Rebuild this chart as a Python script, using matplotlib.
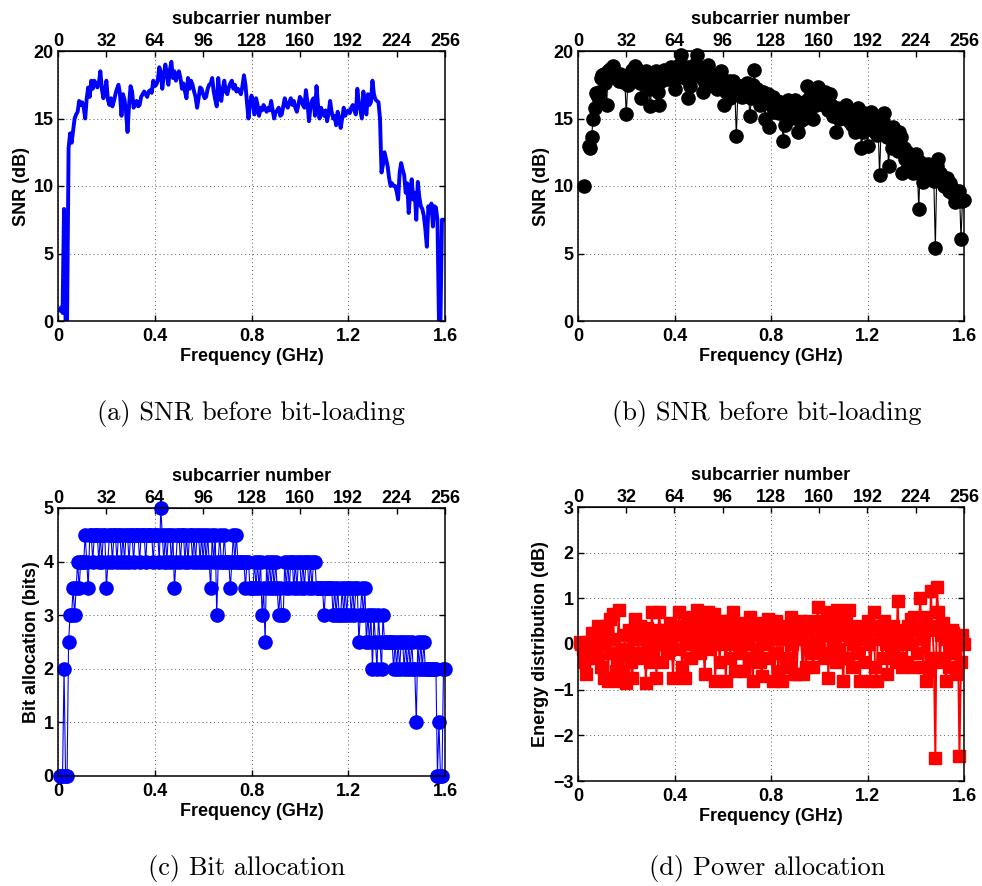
import numpy as np
import matplotlib
matplotlib.use("Agg")
import matplotlib.pyplot as plt

plt.rcParams['font.family'] = ['Liberation Sans', 'DejaVu Sans']
plt.rcParams['font.weight'] = 'bold'
plt.rcParams['axes.labelweight'] = 'bold'
plt.rcParams['font.size'] = 13
plt.rcParams['axes.unicode_minus'] = True

# OFDM system: 256 subcarriers over 1.6 GHz
N_SUB = 256
BANDWIDTH_GHZ = 1.6
subcarrier = np.arange(1, N_SUB + 1)
freq_ghz = subcarrier * BANDWIDTH_GHZ / N_SUB

freq_ticks = [0, 0.4, 0.8, 1.2, 1.6]
freq_labels = ['0', '0.4', '0.8', '1.2', '1.6']
sub_ticks = [0, 32, 64, 96, 128, 160, 192, 224, 256]

# (a) measured SNR per subcarrier (dB)
snr_line = [
    0.8, 1.0, 0.6, 8.3, 0.0, 0.0, 12.8, 13.9, 13.2, 14.1, 15.0, 15.3, 15.5, 16.3, 16.0, 16.2,
    15.8, 15.0, 16.5, 17.3, 16.6, 17.8, 17.2, 17.8, 17.6, 17.3, 17.6, 18.5, 17.2, 16.5, 17.0, 17.8,
    16.4, 16.0, 16.5, 15.9, 16.3, 16.8, 17.2, 17.5, 16.8, 15.2, 16.8, 16.4, 15.5, 14.0, 16.0, 17.4,
    17.0, 15.8, 16.2, 16.3, 15.9, 16.0, 16.6, 16.8, 17.0, 16.8, 16.6, 17.0, 17.1, 16.9, 17.8, 17.4,
    17.5, 17.8, 18.8, 18.4, 17.2, 18.2, 19.0, 18.3, 17.5, 18.6, 19.2, 18.0, 18.5, 17.8, 18.2, 18.5,
    18.0, 17.2, 17.6, 17.0, 16.5, 18.0, 17.2, 17.8, 17.5, 17.0, 16.6, 15.8, 16.5, 17.3, 17.2, 16.8,
    16.5, 16.6, 17.2, 17.5, 17.6, 18.0, 17.0, 16.4, 15.9, 18.0, 16.8, 16.3, 17.2, 17.8, 17.0, 16.8,
    17.3, 17.6, 17.8, 17.2, 17.5, 17.0, 17.2, 17.0, 16.8, 17.4, 18.2, 17.5, 16.2, 15.0, 16.0, 16.7,
    16.2, 15.3, 16.5, 16.0, 15.2, 15.8, 15.6, 16.0, 15.7, 15.5, 15.8, 15.6, 16.3, 15.6, 15.0, 15.5,
    15.6, 15.8, 15.2, 15.3, 15.9, 16.5, 16.0, 15.8, 16.2, 16.5, 16.0, 16.3, 15.8, 15.5, 16.0, 16.6,
    16.4, 16.0, 15.8, 17.1, 16.2, 14.8, 15.8, 16.3, 16.5, 15.2, 17.4, 16.0, 15.0, 15.8, 15.5, 15.2,
    15.6, 14.8, 15.4, 16.3, 15.5, 15.0, 15.2, 14.5, 15.5, 15.0, 14.3, 15.0, 15.8, 15.2, 15.5, 15.6,
    15.4, 15.8, 16.0, 15.6, 15.3, 17.2, 16.2, 15.6, 15.0, 17.0, 16.0, 15.3, 16.8, 16.0, 16.2, 17.8,
    16.8, 16.4, 16.3, 16.2, 15.0, 11.0, 11.6, 12.5, 12.0, 11.5, 10.6, 10.0, 10.2, 10.0, 10.0, 9.6,
    9.0, 11.0, 11.7, 11.2, 10.8, 9.5, 10.2, 8.0, 9.6, 10.5, 9.0, 9.5, 7.5, 10.3, 9.2, 8.5,
    8.3, 7.8, 6.8, 5.5, 8.5, 8.0, 8.7, 7.0, 8.5, 8.4, 7.5, 0.0, 0.0, 7.5, 7.5, 7.5,
]

# (b) estimated SNR per subcarrier (dB); unused subcarriers are NaN
nan = float('nan')
snr_points = [
    nan, nan, nan, 10.0, nan, nan, 13.0, 12.8, 13.6, 15.0, 15.8, 16.9, 16.6, 17.0, 18.0, 18.2,
    18.3, 17.6, 16.0, 18.5, 18.7, 18.4, 18.9, 18.6, 18.0, 18.2, 17.8, 18.3, 18.0, 17.7, 17.9, 15.3,
    17.5, 18.0, 18.3, 18.6, 18.2, 18.9, 18.0, 18.6, 17.6, 16.5, 18.2, 17.6, 18.5, 17.8, 17.2, 15.9,
    17.6, 18.3, 17.9, 18.5, 17.0, 16.0, 17.8, 18.3, 18.6, 18.5, 17.9, 18.5, 18.2, 18.8, 18.4, 17.2,
    18.0, 18.6, 19.0, 19.7, 18.6, 18.2, 18.0, 18.8, 16.5, 17.4, 18.7, 18.2, 19.0, 18.5, 19.7, 18.8,
    18.4, 18.0, 17.0, 17.6, 18.4, 19.0, 18.0, 17.5, 18.2, 17.6, 17.8, 17.2, 17.7, 18.0, 18.5, 17.6,
    16.0, 17.0, 17.5, 17.8, 16.5, 17.4, 17.8, 17.2, 13.7, 16.8, 17.0, 17.4, 16.6, 17.4, 17.0, 17.6,
    16.8, 15.2, 16.5, 17.5, 18.6, 16.5, 17.2, 16.8, 16.0, 16.2, 17.0, 15.0, 16.4, 16.8, 14.4, 16.0,
    16.6, 15.5, 16.0, 16.3, 15.4, 16.2, 15.8, 13.3, 14.5, 15.5, 16.4, 15.0, 15.8, 16.0, 15.2, 16.4,
    15.6, 14.0, 14.8, 15.8, 15.0, 16.2, 16.0, 17.4, 16.5, 15.8, 16.8, 15.0, 16.4, 16.0, 17.3, 16.8,
    16.3, 16.6, 16.0, 17.0, 16.2, 15.6, 16.8, 16.0, 15.2, 15.8, 14.0, 15.8, 15.0, 15.5, 15.2, 15.6,
    15.3, 16.0, 15.0, 14.8, 15.4, 14.5, 14.8, 14.0, 15.2, 15.8, 14.6, 12.8, 14.0, 15.4, 14.7, 13.0,
    14.5, 15.5, 14.8, 15.2, 14.0, 13.8, 14.6, 10.8, 14.2, 14.8, 15.4, 14.2, 13.6, 11.5, 13.6, 12.8,
    14.4, 13.2, 13.8, 12.6, 14.0, 13.6, 11.0, 12.8, 12.0, 12.5, 11.8, 11.4, 12.2, 11.0, 12.0, 12.4,
    11.4, 8.3, 11.8, 11.0, 10.3, 11.2, 10.8, 11.6, 10.6, 11.3, 10.9, 10.4, 5.4, 11.5, 12.0, 11.0,
    10.8, 10.4, 10.0, 10.3, 10.6, 9.6, 10.2, 9.5, 9.8, 8.8, 9.4, 9.0, 9.6, 6.1, 8.9, 9.0,
]

# (c) bits loaded on each subcarrier
bits = [
    0, 0, 0, 2, 0, 0, 2.5, 3, 3, 3.5, 3, 3.5, 4, 3.5, 4, 4,
    4, 4.5, 4, 3.5, 4.5, 4.5, 4, 4.5, 4.5, 4.5, 4, 4.5, 4, 4.5, 4.5, 3.5,
    4, 4.5, 4.5, 4, 4.5, 4.5, 4, 4.5, 4.5, 4, 4.5, 4, 4.5, 4.5, 4, 4.5,
    4.5, 4, 4.5, 4.5, 4.5, 4, 4.5, 4.5, 4.5, 4, 4.5, 4.5, 4.5, 4.5, 4, 4.5,
    4.5, 4.5, 4, 5, 4.5, 4, 4.5, 4, 4.5, 4.5, 4, 4.5, 3.5, 4, 4.5, 4.5,
    4, 4.5, 4.5, 4, 4.5, 4, 4.5, 4.5, 4, 4.5, 4, 4.5, 4.5, 4, 4.5, 4,
    4.5, 4, 4.5, 4, 3.5, 4.5, 4, 4.5, 3, 4, 4.5, 4, 4, 4.5, 4, 4,
    4, 3.5, 4, 4.5, 4, 4.5, 4, 4, 4, 4, 4, 3.5, 4, 4, 3.5, 3.5,
    3.5, 4, 3.5, 4, 3.5, 4, 3, 3.5, 2.5, 4, 3.5, 4, 3.5, 4, 3.5, 4,
    3.5, 3, 3.5, 3, 3, 4, 3.5, 4, 3.5, 4, 4, 3.5, 4, 3.5, 4, 4,
    3.5, 4, 3.5, 4, 4, 3.5, 4, 3.5, 4, 4, 3.5, 3.5, 3.5, 3.5, 3.5, 3,
    3.5, 3.5, 3.5, 3.5, 3.5, 3, 3.5, 3, 3.5, 3, 3, 3.5, 3, 3.5, 3, 3.5,
    3.5, 3, 3.5, 3, 3.5, 3.5, 2.5, 3, 3.5, 3, 3.5, 2.5, 3, 2.5, 3, 2,
    3, 2.5, 2, 3, 2.5, 2, 3, 2.5, 2.5, 2.5, 2.5, 2.5, 2.5, 2, 2.5, 2,
    2.5, 2, 2.5, 2.5, 2, 2.5, 2, 2.5, 2, 2.5, 2, 2, 1, 2.5, 2, 2.5,
    2, 2.5, 2, 2, 2, 2, 2, 2, 2, 2, 0, 1, 0, 0, 2, 2,
]

# (d) energy per subcarrier relative to the mean (dB)
energy = [
    0.05, 0.0, -0.1, -0.4, -0.65, -0.3, -0.1, 0.05, 0.25, 0.1, -0.3, -0.1, 0.4, 0.2, -0.5, 0.1,
    -0.75, 0.0, 0.4, -0.8, 0.55, -0.2, 0.65, 0.1, -0.6, -0.3, 0.75, -0.8, -0.1, -0.6, 0.2, -0.85,
    -0.1, 0.3, -0.4, -0.75, 0.1, 0.55, 0.3, -0.2, 0.4, 0.1, -0.3, 0.2, -0.85, 0.35, 0.0, -0.4,
    0.7, -0.1, 0.3, -0.75, 0.2, 0.7, 0.0, -0.4, 0.3, 0.0, 0.3, -0.2, 0.45, 0.1, -0.75, 0.2,
    0.4, -0.1, 0.7, 0.2, -0.5, 0.3, -0.75, 0.6, 0.0, 0.35, -0.3, 0.2, 0.45, -0.1, 0.75, 0.3,
    -0.2, 0.5, 0.1, -0.65, 0.3, 0.7, -0.1, 0.4, 0.0, 0.65, -0.8, 0.3, 0.1, -0.4, 0.5, 0.0,
    0.3, -0.8, 0.2, 0.5, -0.3, 0.1, 0.7, -0.6, 0.3, 0.0, 0.45, -0.2, 0.3, -0.6, 0.1, 0.4,
    0.0, 0.6, -0.3, -0.8, 0.2, 0.45, -0.1, 0.3, -0.4, -0.7, 0.2, 0.0, 0.4, 0.55, -0.3, 0.1,
    -0.8, 0.3, 0.5, -0.2, -0.6, 0.35, -0.8, 0.1, 0.4, -0.3, 0.2, -0.5, 0.6, 0.0, -0.65, 0.3,
    -0.65, 0.1, 0.5, 0.2, -0.65, 0.4, -0.5, 0.0, 0.5, 0.3, -0.2, -0.5, 0.1, 0.3, 0.8, -0.1,
    0.3, 0.5, -0.3, 0.2, 0.7, -0.75, 0.4, -0.2, 0.1, 0.5, -0.4, 0.75, -0.1, 0.3, -0.3, -0.8,
    0.2, 0.5, -0.3, 0.75, 0.1, -0.5, 0.3, 0.0, -0.2, 0.4, -0.8, 0.1, 0.25, -0.4, 0.2, 0.5,
    0.0, -0.8, 0.4, 0.7, -0.5, -0.8, 0.3, 0.4, 0.1, -0.3, 0.5, 0.0, -0.65, 0.3, 0.2, -0.2,
    0.4, 0.1, -0.4, 0.95, 0.0, -0.3, -0.5, 0.2, 0.3, -0.4, 0.4, 0.0, 0.55, -0.5, 0.6, 0.3,
    -0.2, 0.4, 1.0, 0.1, -0.5, 0.6, -0.8, 0.3, -0.6, 1.15, 0.4, -0.3, -2.5, 1.25, 0.7, -0.4,
    0.2, 0.45, -0.3, -0.8, 0.1, -0.5, -0.1, 0.3, 0.25, -0.2, -0.65, 0.0, -2.45, -0.4, 0.2, 0.0,
]

captions = ['(a) SNR before bit-loading', '(b) SNR before bit-loading',
            '(c) Bit allocation', '(d) Power allocation']

W, H = 982, 886
fig = plt.figure(figsize=(W / 100, H / 100), dpi=100)


def px_axes(x0, y0, x1, y1):
    return fig.add_axes([x0 / W, 1 - y1 / H, (x1 - x0) / W, (y1 - y0) / H])


def style(ax, ylim, yticks, ylabel):
    ax.set_xlim(0, BANDWIDTH_GHZ)
    ax.set_ylim(*ylim)
    ax.set_xticks(freq_ticks)
    ax.set_xticklabels(freq_labels)
    ax.set_yticks(yticks)
    ax.grid(True, linestyle=(0, (1, 3)), color='0.35', linewidth=0.7)
    ax.set_axisbelow(True)
    ax.tick_params(direction='in', length=4, width=1, right=True)
    ax.tick_params(axis='x', pad=4.7)
    ax.tick_params(axis='y', pad=3)
    ax.set_xlabel('Frequency (GHz)', labelpad=2.5)
    ax.set_ylabel(ylabel, labelpad=3)
    for s in ax.spines.values():
        s.set_linewidth(1.1)
    sec = ax.secondary_xaxis('top', functions=(lambda f: f * N_SUB / BANDWIDTH_GHZ,
                                               lambda k: k * BANDWIDTH_GHZ / N_SUB))
    sec.set_xticks(sub_ticks)
    sec.tick_params(direction='in', length=4, width=1, pad=0.5)
    sec.set_xlabel('subcarrier number', labelpad=7)


ax_a = px_axes(58, 51, 445, 321)
ax_a.plot(freq_ghz, snr_line, color='#0000ff', lw=2.8, solid_joinstyle='round')
style(ax_a, (0, 20), [0, 5, 10, 15, 20], 'SNR (dB)')

ax_b = px_axes(578, 51, 964, 321)
ax_b.plot(freq_ghz, snr_points, '-o', color='k', lw=0.8, ms=9.5, clip_on=False)
style(ax_b, (0, 20), [0, 5, 10, 15, 20], 'SNR (dB)')

ax_c = px_axes(58, 508, 445, 776)
ax_c.plot(freq_ghz, bits, '-o', color='#0000ff', lw=0.8, ms=9.5, clip_on=False)
style(ax_c, (0, 5), [0, 1, 2, 3, 4, 5], 'Bit allocation (bits)')

ax_d = px_axes(578, 507, 964, 781)
ax_d.plot(freq_ghz, energy, '-s', color='#ff0000', lw=1.4, ms=8, clip_on=False)
style(ax_d, (-3, 3), [-3, -2, -1, 0, 1, 2, 3], 'Energy distribution (dB)')

cap_pos = [(251, 413), (767, 413), (247, 868), (767, 868)]
for text, (cx, cy) in zip(captions, cap_pos):
    fig.text(cx / W, 1 - cy / H, text, ha='center', va='center',
             family=['cmr10', 'DejaVu Serif'], weight='normal', fontsize=19)

fig.savefig('out.png', dpi=100)
